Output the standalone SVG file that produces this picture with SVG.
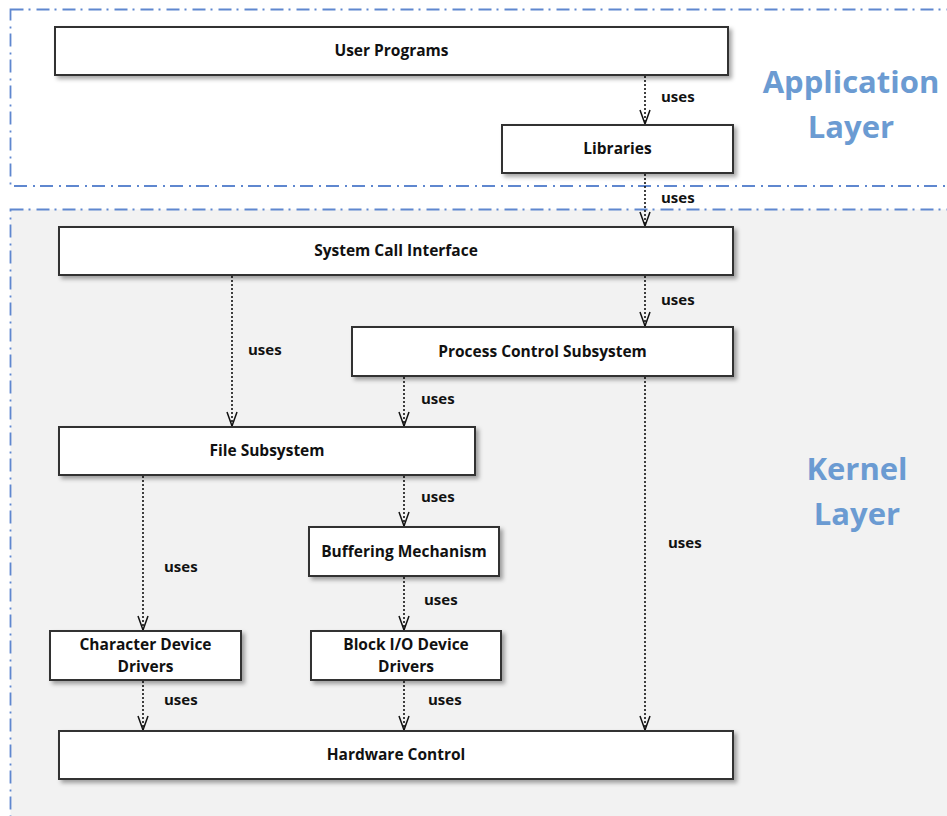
<svg xmlns="http://www.w3.org/2000/svg" width="947" height="816" viewBox="0 0 947 816">
  <style>
    .layer { stroke: #5f87cf; stroke-width: 1.8; stroke-dasharray: 13 5 2 6; }
    .node rect { fill: #ffffff; stroke: #333333; stroke-width: 2; filter: url(#shadow); }
    .node text { font-family: "Open Sans", "Liberation Sans", sans-serif; font-weight: bold; font-size: 15.5px; fill: #111111; text-anchor: middle; }
    .edge line { stroke: #111111; stroke-width: 1.6; stroke-dasharray: 2 2; marker-end: url(#vhead); }
    .lbl { font-family: "Open Sans", "Liberation Sans", sans-serif; font-weight: bold; font-size: 15px; fill: #111111; }
    .title { font-family: "Open Sans", "Liberation Sans", sans-serif; font-weight: bold; font-size: 31px; fill: #6b9bd2; text-anchor: middle; }
  </style>
  <defs>
    <filter id="shadow" x="-10%" y="-20%" width="120%" height="150%">
      <feDropShadow dx="3" dy="3" stdDeviation="2" flood-color="#000000" flood-opacity="0.35"/>
    </filter>
    <!-- open V arrowhead, drawn along +x so orient="auto" points it down the line -->
    <marker id="vhead" markerWidth="16" markerHeight="12" refX="15" refY="6" orient="auto" markerUnits="userSpaceOnUse" viewBox="0 0 16 12">
      <path d="M1,1 L15,6 L1,11" fill="none" stroke="#111111" stroke-width="1.5"/>
    </marker>
  </defs>

  <rect width="947" height="816" fill="#ffffff"/>

  <!-- layers -->
  <g id="application-layer">
    <rect class="layer" x="10.5" y="9.5" width="960" height="176.5" fill="#ffffff"/>
    <text class="title" x="851" y="93">Application</text>
    <text class="title" x="851" y="138">Layer</text>
  </g>
  <g id="kernel-layer">
    <rect class="layer" x="10.5" y="209.5" width="960" height="640" fill="#f2f2f2"/>
    <text class="title" x="857" y="480">Kernel</text>
    <text class="title" x="857" y="525">Layer</text>
  </g>

  <!-- connectors -->
  <g id="connectors" class="edge">
    <line x1="645" y1="76" x2="645" y2="124"/>
    <line x1="645" y1="174" x2="645" y2="226"/>
    <line x1="645" y1="276" x2="645" y2="326"/>
    <line x1="232" y1="276" x2="232" y2="426"/>
    <line x1="404" y1="377" x2="404" y2="426"/>
    <line x1="404" y1="476" x2="404" y2="526"/>
    <line x1="143" y1="476" x2="143" y2="630"/>
    <line x1="404" y1="577" x2="404" y2="630"/>
    <line x1="143" y1="681" x2="143" y2="730"/>
    <line x1="404" y1="681" x2="404" y2="730"/>
    <line x1="645" y1="377" x2="645" y2="730"/>
    <text class="lbl" x="661" y="102">uses</text>
    <text class="lbl" x="661" y="203">uses</text>
    <text class="lbl" x="661" y="305">uses</text>
    <text class="lbl" x="248" y="355">uses</text>
    <text class="lbl" x="421" y="404">uses</text>
    <text class="lbl" x="421" y="502">uses</text>
    <text class="lbl" x="164" y="572">uses</text>
    <text class="lbl" x="424" y="605">uses</text>
    <text class="lbl" x="164" y="705">uses</text>
    <text class="lbl" x="428" y="705">uses</text>
    <text class="lbl" x="668" y="548">uses</text>
  </g>

  <!-- nodes -->
  <g id="user-programs" class="node">
    <rect x="55" y="27" width="673" height="48"/>
    <text x="391.5" y="56">User Programs</text>
  </g>
  <g id="libraries" class="node">
    <rect x="502" y="125" width="231" height="48"/>
    <text x="617.5" y="154">Libraries</text>
  </g>
  <g id="system-call-interface" class="node">
    <rect x="59" y="227" width="674" height="48"/>
    <text x="396" y="256">System Call Interface</text>
  </g>
  <g id="process-control-subsystem" class="node">
    <rect x="352" y="327" width="381" height="49"/>
    <text x="542.5" y="357">Process Control Subsystem</text>
  </g>
  <g id="file-subsystem" class="node">
    <rect x="59" y="427" width="416" height="48"/>
    <text x="267" y="456">File Subsystem</text>
  </g>
  <g id="buffering-mechanism" class="node">
    <rect x="309" y="527" width="190" height="49"/>
    <text x="404" y="557">Buffering Mechanism</text>
  </g>
  <g id="character-device-drivers" class="node">
    <rect x="50" y="631" width="191" height="49"/>
    <text x="145.5" y="650">Character Device</text>
    <text x="145.5" y="672">Drivers</text>
  </g>
  <g id="block-io-device-drivers" class="node">
    <rect x="311" y="631" width="190" height="49"/>
    <text x="406" y="650">Block I/O Device</text>
    <text x="406" y="672">Drivers</text>
  </g>
  <g id="hardware-control" class="node">
    <rect x="59" y="731" width="674" height="48"/>
    <text x="396" y="760">Hardware Control</text>
  </g>
</svg>
